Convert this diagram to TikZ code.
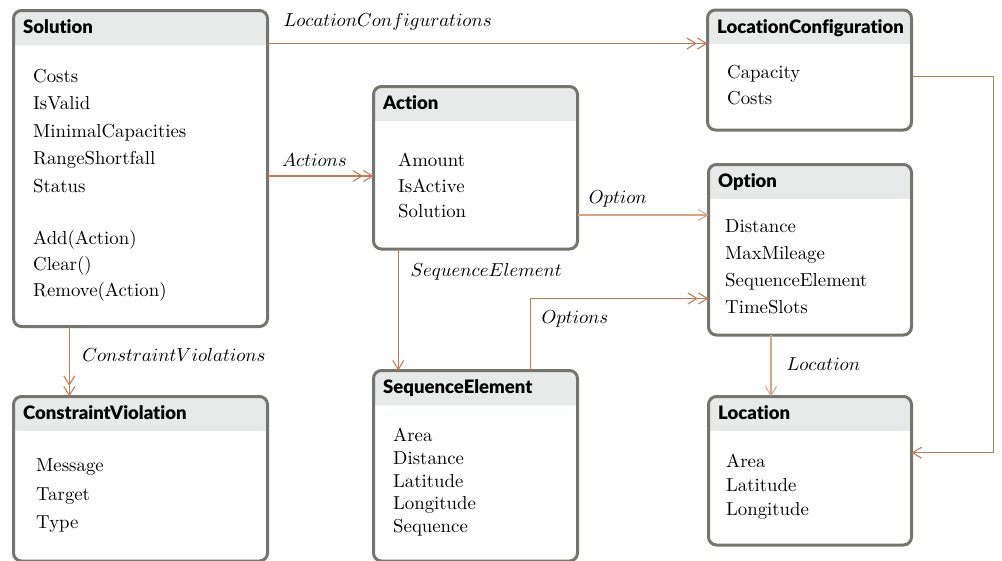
\documentclass[tikz,border=0pt]{standalone}
\usepackage{fontspec}
\usepackage{graphicx}
\IfFontExistsTF{Lato Black}
  {\newfontfamily\titlefam{Lato Black}[Ligatures=NoCommon]\newcommand\titlefont{\titlefam}}
  {\newfontfamily\titlefam{Lato}[Ligatures=NoCommon]\newcommand\titlefont{\titlefam\bfseries}}
\usetikzlibrary{arrows.meta}
\definecolor{boxline}{HTML}{76756D}
\definecolor{hdr}{HTML}{E8EAE9}
\definecolor{linkcol}{HTML}{C27B55}
\definecolor{linklightcol}{HTML}{D4A68C}
\newcommand\scaledtxt[1]{\scalebox{1.88}{#1}}
\tikzset{
  boxbase/.style={draw=none, fill=white, inner sep=0pt, outer sep=0pt, rectangle},
  boxborder/.style={draw=boxline, line width=3pt, rounded corners=8pt},
  titletext/.style={font=\titlefont\fontsize{18.5}{22}\selectfont, inner sep=0pt, anchor=base west},
  itemtext/.style={font=\fontsize{10}{12}\selectfont, inner sep=0pt, anchor=base west},
  lbl/.style={font=\fontsize{10}{12}\selectfont, inner sep=0pt, anchor=base west, at start},
  one/.style={-{Straight Barb[length=9pt,width=11pt]}},
  many/.style={-{Straight Barb[length=9pt,width=11pt,sep=0pt]Straight Barb[length=9pt,width=11pt]}},
  link/.style={draw=linkcol, line width=1.1pt},
  linklight/.style={draw=linklightcol, line width=1.1pt},
}
\newcommand\umlbox[8]{%
  \node[boxbase, minimum width={(#4)-(#2)}, minimum height={(#5)-(#3)}] (#1) at ({((#2)+(#4))/2},{((#3)+(#5))/2}) {};
  \begin{scope}
    \clip[rounded corners=8pt] (#1.north west) rectangle (#1.south east);
    \fill[hdr] (#1.north west) rectangle ([yshift=-34pt]#1.north east);
  \end{scope}
  \draw[boxborder] (#1.north west) rectangle (#1.south east);
  \node[titletext] (#1-title) at ([xshift=9.5pt,yshift=-23pt]#1.north west) {#6};
  \foreach \yy/\tx [count=\i] in {#8} {\node[itemtext] (#1-\i) at (#7,\yy) {\scaledtxt{\tx}};}
}
\begin{document}
\begin{tikzpicture}[x=1pt,y=-1pt]
\useasboundingbox (0,0) rectangle (1002,560);
\umlbox{sol}{13.5}{10.5}{267.5}{326.5}{Solution}{33}{82/Costs,109.5/IsValid,137/MinimalCapacities,164.5/RangeShortfall,192/Status,244/Add(Action),270/Clear(),296/Remove(Action)}
\umlbox{lc}{707.5}{10}{911.5}{130}{LocationConfiguration}{727}{78/Capacity,104.5/Costs}
\umlbox{act}{373.5}{86.5}{577.5}{249}{Action}{398}{166/Amount,192/IsActive,217.5/Solution}
\umlbox{opt}{708.5}{164.5}{911.5}{335}{Option}{725}{232.5/Distance,259/MaxMileage,286.5/SequenceElement,313.5/TimeSlots}
\umlbox{seq}{373.5}{370.5}{577.5}{561}{SequenceElement}{393}{441/Area,464/Distance,487/Latitude,509.5/Longitude,532/Sequence}
\umlbox{cv}{13.5}{396.5}{267.5}{561}{ConstraintViolation}{36}{471.5/Message,500/Target,528/Type}
\umlbox{loc}{708.5}{396.5}{911.5}{545}{Location}{726}{467/Area,491.5/Latitude,515.5/Longitude}
\coordinate (bend) at (993.3,0);
\draw[link, many] (sol.east |- 0,43.5) -- (lc.west |- 0,43.5)
  node[lbl, xshift=15.5pt, yshift=16.8pt] (l-lcs) {\scaledtxt{$LocationConfigurations$}};
\draw[link, many] (sol.east |- 0,176) -- (act.west |- 0,176)
  node[lbl, xshift=14pt, yshift=10pt] (l-acts) {\scaledtxt{$Actions$}};
\draw[linklight, one] (act.east |- 0,215) -- (opt.west |- 0,215)
  node[lbl, xshift=10.8pt, yshift=11.7pt] (l-opt) {\scaledtxt{$Option$}};
\draw[link, one] (act.south -| 398.3,0) -- (seq.north -| 398.3,0)
  node[lbl, xshift=11.7pt, yshift=-27pt] (l-seq) {\scaledtxt{$SequenceElement$}};
\draw[link, many] (seq.north -| 530.7,0) |- (opt.west |- 0,298.5)
  node[lbl, xshift=10.3pt, yshift=47.2pt] (l-opts) {\scaledtxt{$Options$}};
\draw[link, many] (sol.south -| 69.3,0) -- (cv.north -| 69.3,0)
  node[lbl, xshift=12.4pt, yshift=-35.2pt] (l-cvs) {\scaledtxt{$ConstraintViolations$}};
\draw[linklight, one] (opt.south -| 771,0) -- (loc.north -| 771,0)
  node[lbl, xshift=15pt, yshift=-35pt] (l-loc1) {\scaledtxt{$Location$}};
\draw[link, one] (lc.east |- 0,76.7) -| (bend |- 0,452.7) -- (loc.east |- 0,452.7)
  node[lbl, xshift=10.8pt, yshift=10pt] (l-loc2) {\scaledtxt{$Location$}};
\end{tikzpicture}
\end{document}
